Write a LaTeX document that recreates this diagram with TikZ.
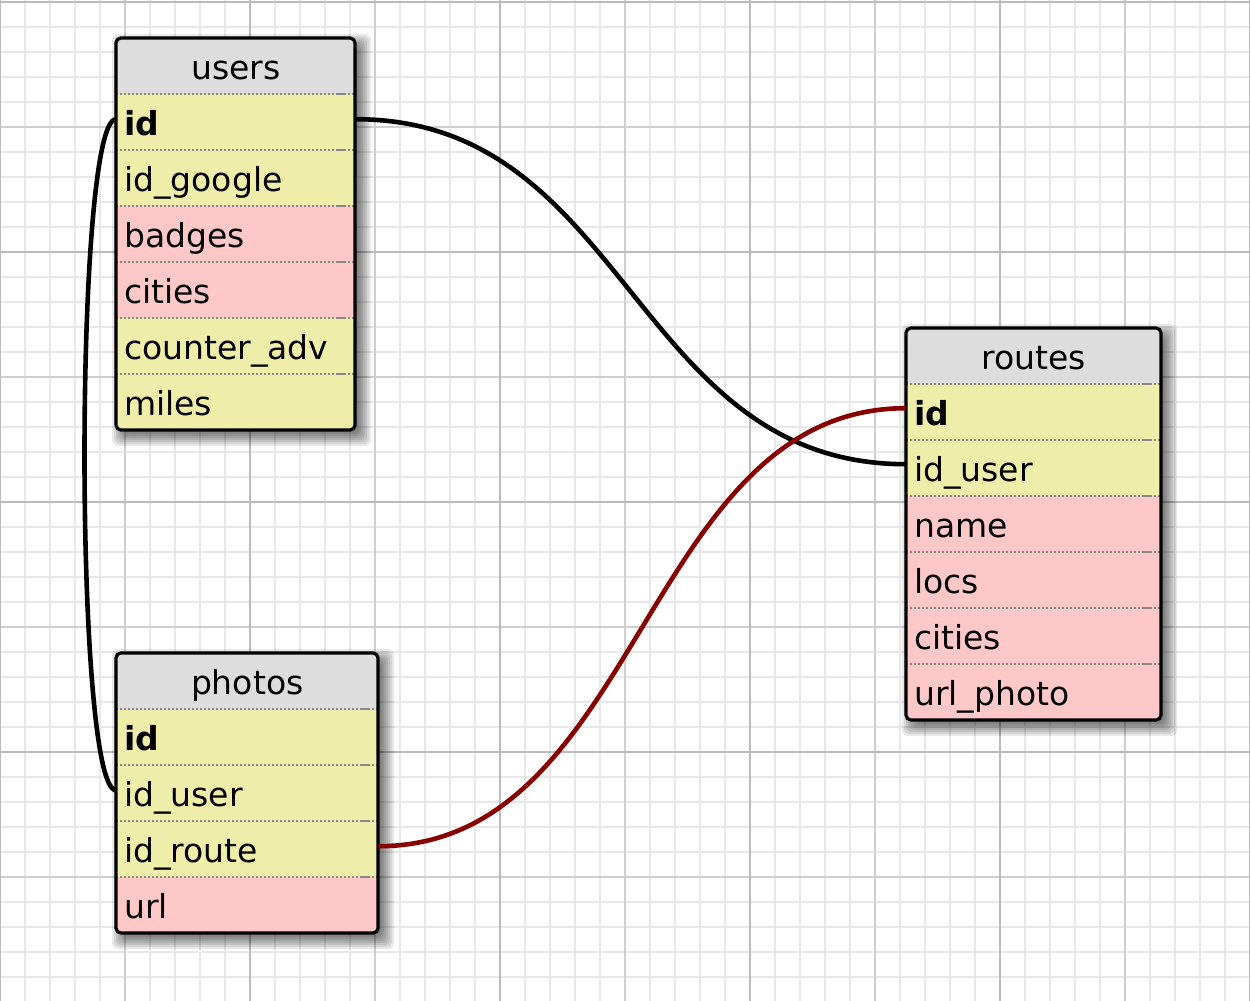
\documentclass[tikz,border=0pt]{standalone}
\usepackage{fontspec}
\setmainfont{DejaVu Sans}
\definecolor{yel}{HTML}{EEEEAA}
\definecolor{pnk}{HTML}{FFC8C8}
\definecolor{hdrgray}{HTML}{DDDDDD}
\definecolor{gminor}{HTML}{E8E8E8}
\definecolor{gmid}{HTML}{CFCFCF}
\definecolor{gmajor}{HTML}{BBBBBB}
\definecolor{sepgray}{HTML}{888888}
\definecolor{relred}{HTML}{880000}
\newcommand\tblshadow[4]{%
  \foreach \e in {-4,-2,0,2,4,6,8,10}{%
    \fill[black,opacity=0.085,rounded corners=6] ({#1+6-\e},{#2+6-\e}) rectangle ({#3+6+\e},{#4+6+\e});}}
\begin{document}
\begin{tikzpicture}[x=1pt,y=-1pt,
  gridminor/.style={draw=gminor,line width=2},
  gridmid/.style={draw=gmid,line width=2.2},
  gridmajor/.style={draw=gmajor,line width=2.6},
  tfont/.style={font=\fontsize{33}{38}\selectfont},
  hdr/.style={tfont,anchor=north west,fill=hdrgray,inner sep=0,minimum height=56,text height=32,text depth=6},
  fld/.style={tfont,anchor=north west,inner xsep=8,inner ysep=0,minimum height=56,text height=32,text depth=6,align=left},
  sep/.style={draw=sepgray,line width=1.6,dash pattern=on 2 off 2},
  sepsolid/.style={draw=sepgray,line width=1.6},
  border/.style={draw=black,line width=3.2,rounded corners=5},
  conn/.style={draw=black,line width=4.6},
  connred/.style={draw=relred,line width=4.6}]
\useasboundingbox (0,0) rectangle (1250,1001);
\fill[white] (0,0) rectangle (1250,1001);
% grid
\foreach \x in {0,25,...,1250} \draw[gridminor] (\x,0) -- (\x,1001);
\foreach \y in {2,27,...,1002} \draw[gridminor] (0,\y) -- (1250,\y);
\foreach \x in {125,375,...,1125} \draw[gridmid] (\x,0) -- (\x,1001);
\foreach \y in {127,377,627,877} \draw[gridmid] (0,\y) -- (1250,\y);
\foreach \x in {0,250,...,1250} \draw[gridmajor] (\x,0) -- (\x,1001);
\foreach \y in {2,252,502,752,1002} \draw[gridmajor] (0,\y) -- (1250,\y);
% shadows
\tblshadow{116}{38}{355}{430}
\tblshadow{906}{328}{1161}{720}
\tblshadow{116}{653}{378}{933}
% users
\begin{scope}
\clip[rounded corners=5] (116,38) rectangle (355,430);
\node[hdr,minimum width=239] (users) at (116,38) {users};
\node[fld,fill=yel,text width=223] (users-id) at (116,94) {\textbf{id}};
\node[fld,fill=yel,text width=223] (users-idgoogle) at (116,150) {id\_google};
\node[fld,fill=pnk,text width=223] (users-badges) at (116,206) {badges};
\node[fld,fill=pnk,text width=223] (users-cities) at (116,262) {cities};
\node[fld,fill=yel,text width=223] (users-counteradv) at (116,318) {counter\_adv};
\node[fld,fill=yel,text width=223] (users-miles) at (116,374) {miles};
\end{scope}
\foreach \yy in {94,150,206,262,318,374}{
  \draw[sep] (116,\yy) -- (355,\yy);
  \draw[sepsolid] (338,\yy) -- (346,\yy);}
\draw[border] (116,38) rectangle (355,430);
% routes
\begin{scope}
\clip[rounded corners=5] (906,328) rectangle (1161,720);
\node[hdr,minimum width=255] (routes) at (906,328) {routes};
\node[fld,fill=yel,text width=239] (routes-id) at (906,384) {\textbf{id}};
\node[fld,fill=yel,text width=239] (routes-iduser) at (906,440) {id\_user};
\node[fld,fill=pnk,text width=239] (routes-name) at (906,496) {name};
\node[fld,fill=pnk,text width=239] (routes-locs) at (906,552) {locs};
\node[fld,fill=pnk,text width=239] (routes-cities) at (906,608) {cities};
\node[fld,fill=pnk,text width=239] (routes-urlphoto) at (906,664) {url\_photo};
\end{scope}
\foreach \yy in {384,440,496,552,608,664}{
  \draw[sep] (906,\yy) -- (1161,\yy);
  \draw[sepsolid] (1144,\yy) -- (1152,\yy);}
\draw[border] (906,328) rectangle (1161,720);
% photos
\begin{scope}
\clip[rounded corners=5] (116,653) rectangle (378,933);
\node[hdr,minimum width=262] (photos) at (116,653) {photos};
\node[fld,fill=yel,text width=246] (photos-id) at (116,709) {\textbf{id}};
\node[fld,fill=yel,text width=246] (photos-iduser) at (116,765) {id\_user};
\node[fld,fill=yel,text width=246] (photos-idroute) at (116,821) {id\_route};
\node[fld,fill=pnk,text width=246] (photos-url) at (116,877) {url};
\end{scope}
\foreach \yy in {709,765,821,877}{
  \draw[sep] (116,\yy) -- (378,\yy);
  \draw[sepsolid] (361,\yy) -- (369,\yy);}
\draw[border] (116,653) rectangle (378,933);
% connectors
\draw[conn] ([yshift=3pt]users-id.east) .. controls +(273,0) and +(-273,0) .. ([yshift=4pt]routes-iduser.west);
\draw[conn] ([yshift=3pt]users-id.west) .. controls +(-42,0) and +(-42,0) .. ([yshift=3pt]photos-iduser.west);
\draw[connred] ([yshift=3pt]photos-idroute.east) .. controls +(262,0) and +(-262,0) .. ([yshift=4pt]routes-id.west);
\end{tikzpicture}
\end{document}
